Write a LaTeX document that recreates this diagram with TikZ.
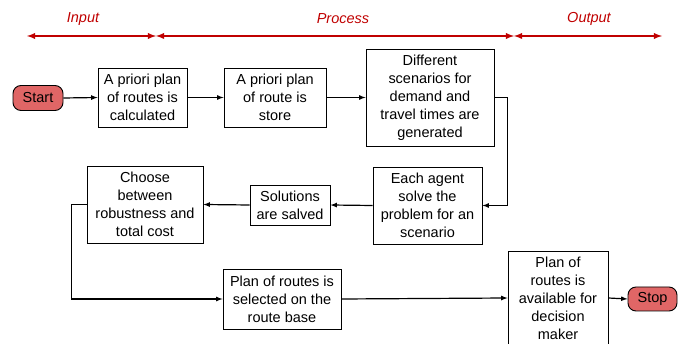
\documentclass[tikz,border=0pt]{standalone}
\usepackage{fontspec}
\setmainfont{Liberation Sans}
\definecolor{hdrred}{RGB}{192,0,0}
\definecolor{termfill}{RGB}{224,102,102}
\tikzset{
  procbox/.style={draw, line width=0.9pt, align=center, inner sep=2pt,
    font=\fontsize{14.5}{18}\selectfont},
  termbox/.style={draw, line width=0.9pt, rounded corners=8pt, fill=termfill,
    inner sep=2pt, font=\fontsize{14.5}{18}\selectfont},
  phase/.style={text=hdrred, font=\fontsize{14.5}{18}\selectfont\itshape},
  flow/.style={line width=1.2pt, -latex},
  span/.style={line width=1.8pt, hdrred, latex-latex}
}
\begin{document}
\begin{tikzpicture}[x=1pt, y=-1pt]
\useasboundingbox (0,0) rectangle (681,344);

% phases
\node[phase] (lin) at (83,19) {Input};
\node[phase] (lproc) at (343,19) {Process};
\node[phase] (lout) at (589,19) {Output};

\coordinate (h0) at (27,36);
\coordinate (h1) at (156,36);
\coordinate (h2) at (514,36);
\coordinate (h3) at (662,36);

\draw[span] (h0)--(h1);
\draw[span] (h1)--(h2);
\draw[span] (h2)--(h3);

% top row
\node[termbox, minimum width=50, minimum height=25] (start) at (38,98) {Start};
\node[procbox, minimum width=89, minimum height=59] (calc) at (142.5,97.5)
  {A priori plan\\of routes is\\calculated};
\node[procbox, minimum width=102, minimum height=59] (store) at (275,97.5)
  {A priori plan\\of route is\\store};
\node[procbox, minimum width=128, minimum height=97] (scen) at (430,97.5)
  {Different\\scenarios for\\demand and\\travel times are\\generated};

% middle row
\node[procbox, minimum width=109, minimum height=77] (agent) at (427.5,205.5)
  {Each agent\\solve the\\problem for an\\scenario};
\node[procbox, minimum width=80, minimum height=40] (solv) at (290,205)
  {Solutions\\are salved};
\node[procbox, minimum width=116, minimum height=77] (choose) at (145,204.5)
  {Choose\\between\\robustness and\\total cost};

% bottom row
\node[procbox, minimum width=118, minimum height=60] (select) at (282,299)
  {Plan of routes is\\selected on the\\route base};
\node[procbox, minimum width=100, minimum height=93] (avail) at (558,298)
  {Plan of\\routes is\\available for\\decision\\maker};
\node[termbox, minimum width=49, minimum height=24] (stop) at (652.5,299) {Stop};

\draw[flow] (start.east)--(calc.west);
\draw[flow] (calc.east)--(store.west);
\draw[flow] (store.east)--(scen.west);
\draw[flow] (scen.east) -- ++(13,0) |- (agent.east);
\draw[flow] (agent.west)--(solv.east);
\draw[flow] (solv.west)--(choose.east);
\draw[flow] (choose.west) -- ++(-15,0) |- (select.west);
\draw[flow] (select.east)--(avail.west);
\draw[flow] (avail.east)--(stop.west);

\end{tikzpicture}
\end{document}
